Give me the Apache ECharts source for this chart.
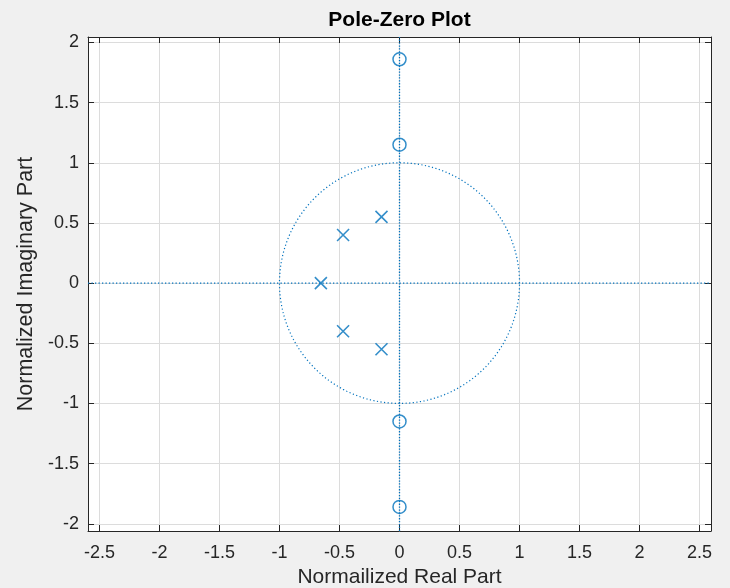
<!DOCTYPE html>
<html>
<head>
<meta charset="utf-8">
<script src="https://cdn.jsdelivr.net/npm/echarts@6/dist/echarts.min.js"></script>
<style>
html,body{margin:0;padding:0;background:#f0f0f0;}
#c{width:730px;height:588px;}
</style>
</head>
<body>
<div id="c"></div>
<script>
// ---- data ----
const titleText = 'Pole-Zero Plot';
const xLabel = 'Normailized Real Part';
const yLabel = 'Normalized Imaginary Part';
const xRange = [-2.595, 2.595];
const yRange = [-2.06, 2.045];
const zerosRe = [0, 0, 0, 0];
const zerosIm = [1.86, 1.15, -1.15, -1.86];
const polesRe = [-0.15, -0.47, -0.655, -0.47, -0.15];
const polesIm = [0.55, 0.40, 0, -0.40, -0.55];
const unitCircleRadius = 1;
const circleStepDeg = 2;

// ---- build ----
const zeros = zerosRe.map((r, i) => [r, zerosIm[i]]);
const poles = polesRe.map((r, i) => [r, polesIm[i]]);
const circle = [];
for (let a = 0; a <= 360; a += circleStepDeg) {
  const t = a * Math.PI / 180;
  circle.push([unitCircleRadius * Math.cos(t), unitCircleRadius * Math.sin(t)]);
}
const realAxisLine = [[xRange[0], 0], [xRange[1], 0]];
const imagAxisLine = [[0, yRange[0]], [0, yRange[1]]];

const blue = '#0072BD';
const txt = '#262626';
const font = "'Liberation Sans', Arial, Helvetica, sans-serif";

const chart = echarts.init(document.getElementById('c'), null, {renderer: 'canvas'});

function axisBase(extra) {
  return Object.assign({
    type: 'value',
    splitNumber: 10,
    axisLine: {show: true, onZero: false, lineStyle: {color: txt, width: 1}},
    axisTick: {show: true, inside: true, length: 6, lineStyle: {color: txt, width: 1}},
    axisLabel: {show: true, color: txt, fontSize: 18, fontFamily: font, showMinLabel: false, showMaxLabel: false},
    splitLine: {show: true, lineStyle: {color: '#dcdcdc', width: 1}},
    nameTextStyle: {color: txt, fontFamily: font}
  }, extra);
}

const option = {
  backgroundColor: '#f0f0f0',
  animation: false,
  grid: {left: 88, right: 19, top: 37, bottom: 57, show: true, backgroundColor: '#ffffff', borderWidth: 0,
    containLabel: false, outerBoundsMode: 'none'},
  xAxis: [
    axisBase({position: 'bottom', min: xRange[0], max: xRange[1],
      axisLabel: {show: true, color: txt, fontSize: 18, fontFamily: font, margin: 13, showMinLabel: false, showMaxLabel: false},
      name: xLabel, nameLocation: 'middle', nameGap: 36,
      nameTextStyle: {color: txt, fontFamily: font, fontSize: 21}}),
    axisBase({position: 'top', min: xRange[0], max: xRange[1],
      axisLabel: {show: false}, splitLine: {show: false},
      name: titleText, nameLocation: 'middle', nameGap: 6,
      nameTextStyle: {color: '#000', fontFamily: font, fontSize: 21, fontWeight: 'bold'}})
  ],
  yAxis: [
    axisBase({position: 'left', min: yRange[0], max: yRange[1], splitNumber: 8,
      axisLabel: {show: true, color: txt, fontSize: 18, fontFamily: font, margin: 9, showMinLabel: false, showMaxLabel: false},
      name: yLabel, nameLocation: 'middle', nameGap: 45, nameRotate: 90,
      nameTextStyle: {color: txt, fontFamily: font, fontSize: 21.5}}),
    axisBase({position: 'right', min: yRange[0], max: yRange[1], splitNumber: 8,
      axisLabel: {show: false}, splitLine: {show: false}})
  ],
  series: [
    {type: 'line', data: realAxisLine, showSymbol: false, silent: true,
      lineStyle: {color: blue, width: 1.3, type: [1.3, 2.2]}},
    {type: 'line', data: imagAxisLine, showSymbol: false, silent: true,
      lineStyle: {color: blue, width: 1.3, type: [1.3, 1.6]}},
    {type: 'line', data: circle, showSymbol: false, silent: true, smooth: false,
      lineStyle: {color: blue, width: 1.2, type: [1.2, 2.4]}},
    {type: 'scatter', data: zeros, symbol: 'circle', symbolSize: 13, silent: true,
      itemStyle: {color: 'rgba(0,0,0,0)', borderColor: blue, borderWidth: 1.5}},
    {type: 'scatter', data: poles, symbol: 'path://M0,0L10,10M10,0L0,10', symbolSize: 12, silent: true,
      itemStyle: {color: 'none', borderColor: blue, borderWidth: 1.6}}
  ]
};
chart.setOption(option);
</script>
</body>
</html>
